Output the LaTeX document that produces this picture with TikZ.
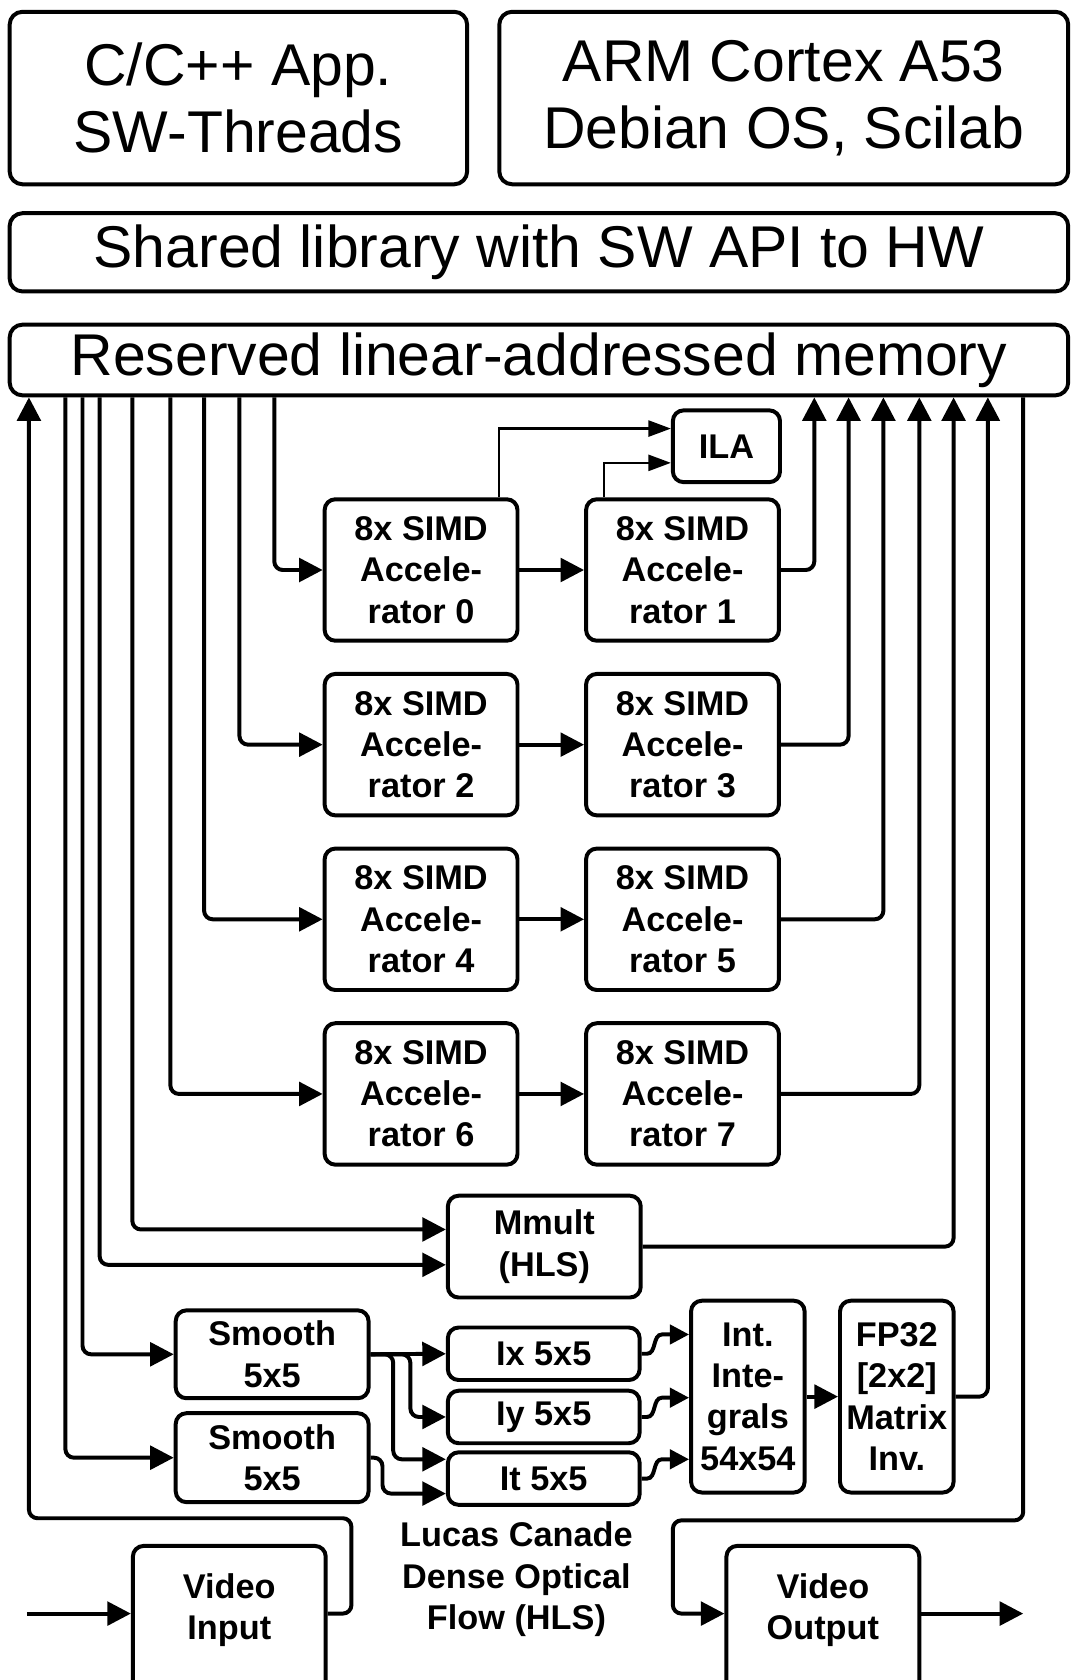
\documentclass[tikz,border=0pt]{standalone}
\usepackage{fontspec}
\setmainfont{Liberation Sans}
\usetikzlibrary{arrows.meta,calc}
\begin{document}
\begin{tikzpicture}[x=1pt,y=-1pt,
  box/.style={draw, line width=3.7pt, rounded corners=10pt, align=center, inner sep=0pt},
  bigbox/.style={box, rounded corners=12pt},
  big/.style={font=\fontsize{55}{63}\selectfont},
  sm/.style={font=\bfseries\fontsize{32}{38.5}\selectfont},
  conn/.style={line width=3.7pt, rounded corners=8pt, -{Triangle[length=22pt,width=22pt]}},
  thinconn/.style={line width=2.2pt, -{Triangle[length=21pt,width=15pt]}},
  scurve/.style={line width=3.7pt, -{Triangle[length=18pt,width=18pt]}}]
\useasboundingbox (0,0) rectangle (999,1568);
\clip (0,0) rectangle (999,1568);

% top layers
\node[bigbox,big,minimum width=427pt,minimum height=161pt] (app) at (222.5,91.5) {C/C++ App.\\SW-Threads};
\node[bigbox,big,minimum width=531pt,minimum height=161pt] (arm) at (731.5,91.5) {ARM Cortex A53\\Debian OS, Scilab};
\node[bigbox,big,minimum width=988pt,minimum height=73pt] (lib) at (503,235.5) {Shared library with SW API to HW};
\node[bigbox,big,minimum width=988pt,minimum height=66pt] (mem) at (503,336) {Reserved linear-addressed memory};

% accelerators
\node[box,sm,minimum width=180pt,minimum height=132pt] (acc0) at (393,532) {8x SIMD\\Accele-\\rator 0};
\node[box,sm,minimum width=180pt,minimum height=132pt] (acc1) at (637,532) {8x SIMD\\Accele-\\rator 1};
\node[box,sm,minimum width=180pt,minimum height=132pt] (acc2) at (393,695) {8x SIMD\\Accele-\\rator 2};
\node[box,sm,minimum width=180pt,minimum height=132pt] (acc3) at (637,695) {8x SIMD\\Accele-\\rator 3};
\node[box,sm,minimum width=180pt,minimum height=132pt] (acc4) at (393,858) {8x SIMD\\Accele-\\rator 4};
\node[box,sm,minimum width=180pt,minimum height=132pt] (acc5) at (637,858) {8x SIMD\\Accele-\\rator 5};
\node[box,sm,minimum width=180pt,minimum height=132pt] (acc6) at (393,1021) {8x SIMD\\Accele-\\rator 6};
\node[box,sm,minimum width=180pt,minimum height=132pt] (acc7) at (637,1021) {8x SIMD\\Accele-\\rator 7};
\node[box,sm,minimum width=100pt,minimum height=67pt] (ila) at (678,416.5) {ILA};

% HLS blocks
\node[box,sm,minimum width=180pt,minimum height=95pt] (mmult) at (508,1163.5) {Mmult\\(HLS)};
\node[box,sm,minimum width=180pt,minimum height=82pt] (sm1) at (254,1264) {Smooth\\5x5};
\node[box,sm,minimum width=180pt,minimum height=83pt] (sm2) at (254,1360.5) {Smooth\\5x5};
\node[box,sm,minimum width=179pt,minimum height=49pt] (ix) at (507.5,1263.5) {Ix 5x5};
\node[box,sm,minimum width=179pt,minimum height=49pt] (iy) at (507.5,1322.5) {Iy 5x5};
\node[box,sm,minimum width=179pt,minimum height=49pt] (it) at (507.5,1380) {It 5x5};
\node[box,sm,minimum width=106pt,minimum height=179pt] (int) at (698,1303.5) {Int.\\Inte-\\grals\\54x54};
\node[box,sm,minimum width=106pt,minimum height=179pt] (fp) at (837,1303.5) {FP32\\{[2x2]}\\Matrix\\Inv.};
\node[sm,align=center] (lk) at (482,1474) {Lucas Canade\\Dense Optical\\Flow (HLS)};

% video
\node[box,minimum width=180pt,minimum height=200pt,anchor=north] (vin) at (214,1441) {};
\node[sm,align=center] (vintxt) at (214,1503) {Video\\Input};
\node[box,minimum width=180pt,minimum height=200pt,anchor=north] (vout) at (768,1441) {};
\node[sm,align=center] (vouttxt) at (768,1503) {Video\\Output};

% helper coordinates
\coordinate (tL0) at (27,0);
\coordinate (tL1) at (61,0);
\coordinate (tL2) at (77,0);
\coordinate (tL3) at (93,0);
\coordinate (tL4) at (123.5,0);
\coordinate (tL5) at (159,0);
\coordinate (tL6) at (190.5,0);
\coordinate (tL7) at (223.5,0);
\coordinate (tL8) at (256,0);
\coordinate (tR1) at (760,0);
\coordinate (tR3) at (792,0);
\coordinate (tR5) at (824.5,0);
\coordinate (tR7) at (858,0);
\coordinate (tRM) at (890,0);
\coordinate (tRF) at (922,0);
\coordinate (tRD) at (955,0);
\coordinate (tI0) at (466,0);
\coordinate (tI1) at (564,0);
\coordinate (br1) at (383,0);
\coordinate (br2) at (367,0);
\coordinate (br3) at (357,0);
\coordinate (vport) at (0,1506);
\coordinate (vinsrc) at (25,1506);
\coordinate (voutdst) at (955,1506);
\coordinate (cl1) at (328,1417);
\coordinate (cr1) at (628,1419);

% memory -> blocks
\draw[conn] (mem.south -| tL8) |- (acc0.west);
\draw[conn] (mem.south -| tL7) |- (acc2.west);
\draw[conn] (mem.south -| tL6) |- (acc4.west);
\draw[conn] (mem.south -| tL5) |- (acc6.west);
\draw[conn] (mem.south -| tL4) |- ($(mmult.west)+(0,-16)$);
\draw[conn] (mem.south -| tL3) |- ($(mmult.west)+(0,17)$);
\draw[conn] (mem.south -| tL2) |- (sm1.west);
\draw[conn] (mem.south -| tL1) |- (sm2.west);

% accelerator chains
\draw[conn] (acc0.east) -- (acc1.west);
\draw[conn] (acc2.east) -- (acc3.west);
\draw[conn] (acc4.east) -- (acc5.west);
\draw[conn] (acc6.east) -- (acc7.west);

% blocks -> memory
\draw[conn] (acc1.east) -| (mem.south -| tR1);
\draw[conn] (acc3.east) -| (mem.south -| tR3);
\draw[conn] (acc5.east) -| (mem.south -| tR5);
\draw[conn] (acc7.east) -| (mem.south -| tR7);
\draw[conn] (mmult.east) -| (mem.south -| tRM);
\draw[conn] (fp.east) -| (mem.south -| tRF);

% ILA probes
\draw[thinconn] (acc0.north -| tI0) |- ($(ila.west)+(0,-16.5)$);
\draw[thinconn] (acc1.north -| tI1) |- ($(ila.west)+(0,15.5)$);

% optical flow pipeline
\draw[conn] (sm1.east) -- (ix.west);
\draw[conn] (sm1.east) -- (sm1.east -| br1) |- (iy.west);
\draw[conn] (sm1.east) -- (sm1.east -| br2) |- ($(it.west)+(0,-18)$);
\draw[conn] (sm2.east) -- (sm2.east -| br3) |- ($(it.west)+(0,14)$);
\draw[scurve] (ix.east) -- ++(5,0) .. controls +(9,0) and +(-9,0) .. ++(14,-18) -- ($(ix.east -| int.west)+(0,-18)$);
\draw[scurve] (iy.east) -- ++(5,0) .. controls +(9,0) and +(-9,0) .. ++(14,-18) -- ($(iy.east -| int.west)+(0,-18)$);
\draw[scurve] (it.east) -- ++(5,0) .. controls +(9,0) and +(-9,0) .. ++(14,-18) -- ($(it.east -| int.west)+(0,-18)$);
\draw[conn] (int.east) -- (fp.west);

% video paths
\draw[conn] (vinsrc) -- (vin.west |- vport);
\draw[conn] (vin.east |- vport) -| (cl1) -| (mem.south -| tL0);
\draw[conn] (mem.south -| tRD) |- (cr1) |- (vout.west |- vport);
\draw[conn] (vout.east |- vport) -- (voutdst);
\end{tikzpicture}
\end{document}
